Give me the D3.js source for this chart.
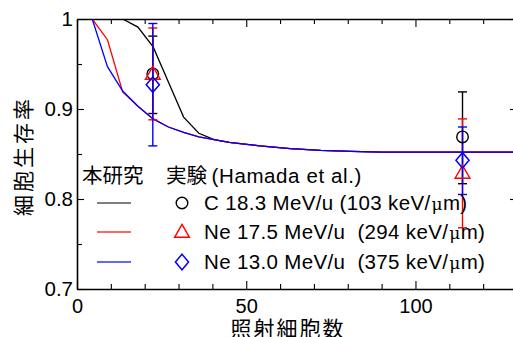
<!DOCTYPE html>
<html lang="ja">
<head>
<meta charset="UTF-8">
<title>細胞生存率</title>
<style>
  html, body { margin: 0; padding: 0; background: #fff; }
  svg { display: block; }
  text { font-family: "Liberation Sans", Arial, sans-serif; fill: #000; white-space: pre; }
  .jp { font-family: "Noto Sans CJK JP", sans-serif; }
</style>
</head>
<body>
<svg id="chart" width="513" height="337"></svg>
<script src="https://cdn.jsdelivr.net/npm/d3@7"></script>
<script>
// simulation curves (本研究)
const simX     = [4.5, 9, 13.5, 18, 22.5, 27, 31.5, 36, 40.5, 45, 49.5, 54, 63, 72, 81, 90, 130];
const simC     = [1, 1, 1, 0.991, 0.969, 0.930, 0.891, 0.873, 0.866, 0.863, 0.861, 0.859, 0.856, 0.854, 0.853, 0.852, 0.852];
const simNe175 = [1, 0.977, 0.919, 0.903, 0.889, 0.880, 0.874, 0.869, 0.866, 0.863, 0.861, 0.859, 0.856, 0.854, 0.853, 0.852, 0.852];
const simNe130 = [1, 0.947, 0.920, 0.903, 0.889, 0.880, 0.874, 0.869, 0.866, 0.863, 0.861, 0.859, 0.856, 0.854, 0.853, 0.852, 0.852];

// experiment (Hamada et al.)
const expX      = [22.4, 113.9];
const expC      = [0.939, 0.869];
const expCHi    = [0.981, 0.919];
const expCLo    = [0.895, 0.817];
const expNe175  = [0.939, 0.829];
const expNe175Hi = [0.990, 0.889];
const expNe175Lo = [0.888, 0.768];
const expNe130  = [0.927, 0.843];
const expNe130Hi = [0.995, 0.880];
const expNe130Lo = [0.859, 0.805];

const legendLabels = [
  ["C 18.3 MeV/u (103 keV/", "m)"],
  ["Ne 17.5 MeV/u  (294 keV/", "m)"],
  ["Ne 13.0 MeV/u  (375 keV/", "m)"]
];
const colors = ["#000000", "#ff0000", "#0000ff"];

const xMajor = [0, 50, 100];
const xMinor = [10, 20, 30, 40, 60, 70, 80, 90, 110, 120];
const yMajor = [0.7, 0.8, 0.9, 1];
const yMinor = [0.75, 0.85, 0.95];

const mLeft = 77, mRight = 517, mTop = 19, mBottom = 289;
const svg = d3.select("#chart");

const x = d3.scaleLinear().domain([0, 130]).range([mLeft, mRight]);
const y = d3.scaleLinear().domain([0.7, 1]).range([mBottom, mTop]);

// clip for curves
svg.append("defs").append("clipPath").attr("id", "plot")
  .append("rect").attr("x", mLeft).attr("y", mTop).attr("width", mRight - mLeft).attr("height", mBottom - mTop);

function axisStyle(g) {
  g.selectAll("path.domain").attr("stroke", "#000").attr("stroke-width", 1.6);
  g.selectAll(".tick line").attr("stroke", "#000").attr("stroke-width", 1.1);
}

// bottom axis
svg.append("g").attr("transform", `translate(0,${mBottom})`)
  .call(d3.axisBottom(x).tickValues(xMajor).tickSizeInner(-8).tickSizeOuter(0).tickPadding(10).tickFormat(d3.format("d")))
  .call(g => g.selectAll("text").attr("font-size", 20).attr("dy", "0.71em"))
  .call(axisStyle);
svg.append("g").attr("transform", `translate(0,${mBottom})`)
  .call(d3.axisBottom(x).tickValues(xMinor).tickSizeInner(-5).tickSizeOuter(0).tickFormat(""))
  .call(g => g.select("path.domain").remove())
  .call(axisStyle);

// top axis
svg.append("g").attr("transform", `translate(0,${mTop})`)
  .call(d3.axisTop(x).tickValues(xMajor).tickSizeInner(-8).tickSizeOuter(0).tickFormat(""))
  .call(axisStyle);
svg.append("g").attr("transform", `translate(0,${mTop})`)
  .call(d3.axisTop(x).tickValues(xMinor).tickSizeInner(-5).tickSizeOuter(0).tickFormat(""))
  .call(g => g.select("path.domain").remove())
  .call(axisStyle);

// left axis
svg.append("g").attr("transform", `translate(${mLeft},0)`)
  .call(d3.axisLeft(y).tickValues(yMajor).tickSizeInner(-7).tickSizeOuter(0)
    .tickFormat(d => d === 1 ? "1" : d3.format(".1f")(d)))
  .call(g => g.selectAll("text").attr("font-size", 20.5).attr("x", -4))
  .call(axisStyle);
svg.append("g").attr("transform", `translate(${mLeft},0)`)
  .call(d3.axisLeft(y).tickValues(yMinor).tickSizeInner(-5).tickSizeOuter(0).tickFormat(""))
  .call(g => g.select("path.domain").remove())
  .call(axisStyle);

// right axis
svg.append("g").attr("transform", `translate(${mRight},0)`)
  .call(d3.axisRight(y).tickValues(yMajor).tickSizeInner(-7).tickSizeOuter(0).tickFormat(""))
  .call(axisStyle);

// axis titles
svg.append("text").attr("class", "jp")
  .attr("transform", `translate(22,156) rotate(-90)`)
  .attr("text-anchor", "middle").attr("dominant-baseline", "central")
  .attr("font-size", 21).attr("letter-spacing", 3)
  .text("細胞生存率");
svg.append("text").attr("class", "jp")
  .attr("x", 288).attr("y", 336)
  .attr("text-anchor", "middle")
  .attr("font-size", 21).attr("letter-spacing", 2)
  .text("照射細胞数");

// simulation lines
const line = d3.line().x((d, i) => x(simX[i])).y(d => y(d));
const plot = svg.append("g").attr("clip-path", "url(#plot)");
[simC, simNe175, simNe130].forEach((s, k) => {
  plot.append("path").datum(s)
    .attr("d", line).attr("fill", "none")
    .attr("stroke", colors[k]).attr("stroke-width", 1.3);
});

// error bars
const expSets = [
  { v: expC, hi: expCHi, lo: expCLo },
  { v: expNe175, hi: expNe175Hi, lo: expNe175Lo },
  { v: expNe130, hi: expNe130Hi, lo: expNe130Lo }
];
const capW = 4.5;
expSets.forEach((s, k) => {
  const g = svg.append("g").attr("stroke", colors[k]).attr("stroke-width", 1.4);
  expX.forEach((xv, i) => {
    g.append("line").attr("x1", x(xv)).attr("x2", x(xv)).attr("y1", y(s.hi[i])).attr("y2", y(s.lo[i]));
    g.append("line").attr("x1", x(xv) - capW).attr("x2", x(xv) + capW).attr("y1", y(s.hi[i])).attr("y2", y(s.hi[i]));
    g.append("line").attr("x1", x(xv) - capW).attr("x2", x(xv) + capW).attr("y1", y(s.lo[i])).attr("y2", y(s.lo[i]));
  });
});

// markers
const markerShapes = [d3.symbolCircle, d3.symbolTriangle, d3.symbolDiamond];
const markerSizes = [105, 95, 95];
function marker(g, k, cx, cy) {
  const sym = d3.symbol().type(markerShapes[k]).size(markerSizes[k]);
  let tf = `translate(${cx},${cy})`;
  if (k === 2) tf += " scale(1.25,0.85)";
  if (k === 1) tf += " translate(0,1)";
  g.append("path").attr("d", sym()).attr("transform", tf)
    .attr("fill", "none").attr("stroke", colors[k]).attr("stroke-width", 1.4);
}
const mk = svg.append("g");
expSets.forEach((s, k) => {
  expX.forEach((xv, i) => marker(mk, k, x(xv), y(s.v[i])));
});

// legend
const lg = svg.append("g");
lg.append("text").attr("class", "jp").attr("x", 82).attr("y", 183).attr("font-size", 20.5).text("本研究");
lg.append("text").attr("x", 166).attr("y", 183).attr("font-size", 20.5)
  .call(t => t.append("tspan").attr("class", "jp").text("実験 "))
  .call(t => t.append("tspan").attr("letter-spacing", 0.6).text("(Hamada et al.)"));
const rowY = [203, 232, 262];
legendLabels.forEach((lab, k) => {
  lg.append("line").attr("x1", 97).attr("x2", 131).attr("y1", rowY[k]).attr("y2", rowY[k])
    .attr("stroke", colors[k]).attr("stroke-width", k === 0 ? 1.2 : 1.6).attr("opacity", k === 0 ? 1 : 0.8);
  marker(lg, k, 182, rowY[k]);
  lg.append("text").attr("x", 204).attr("y", rowY[k] + 7).attr("font-size", 20.5).attr("letter-spacing", 0.35)
    .call(t => t.append("tspan").text(lab[0]))
    .call(t => t.append("tspan").attr("font-family", "DejaVu Serif").attr("font-size", 17).attr("dx", 1).text("\u03bc"))
    .call(t => t.append("tspan").text(lab[1]));
});
</script>
</body>
</html>
